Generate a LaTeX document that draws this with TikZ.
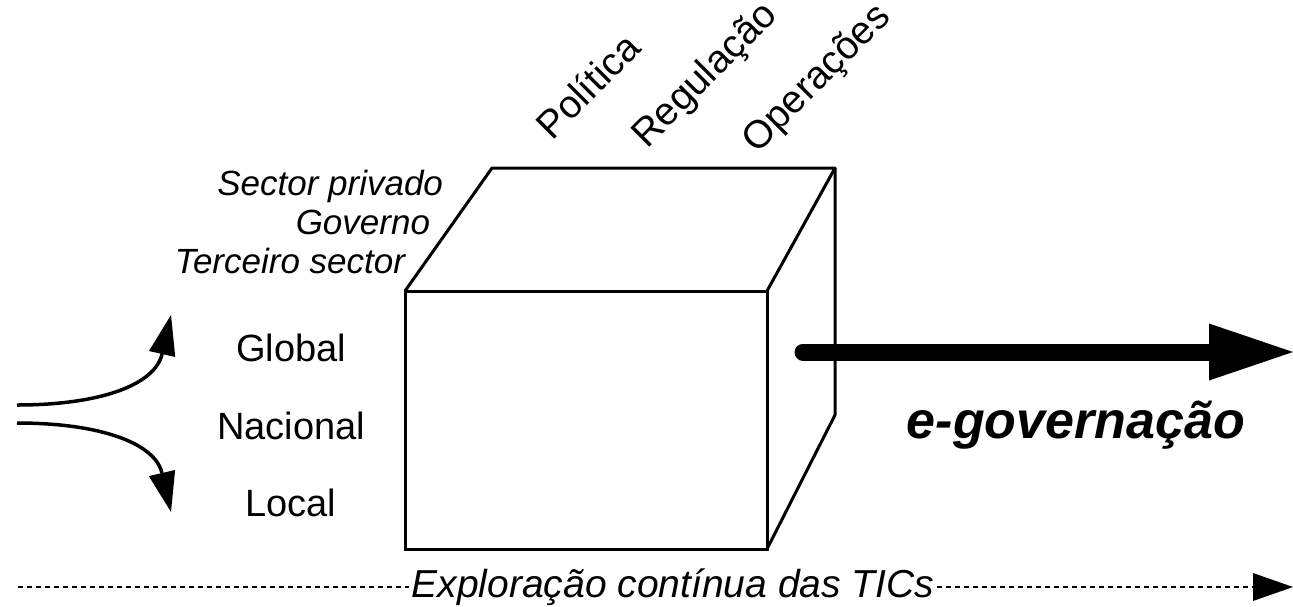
\documentclass[tikz,border=0pt]{standalone}
\usepackage{fontspec}
\setmainfont{Liberation Sans}
\usetikzlibrary{arrows.meta}

\begin{document}
\begin{tikzpicture}
  [x=1pt,y=-1pt,every node/.style={inner sep=0pt,outer sep=0pt},
   lvl/.style={font=\fontsize{38}{40}\selectfont,anchor=base},
   sec/.style={font=\fontsize{35}{37}\selectfont\itshape,anchor=base east},
   area/.style={font=\fontsize{39}{41}\selectfont,anchor=base west,rotate=45},
   edge/.style={line width=3pt,line join=round},
   dotline/.style={line width=2.5pt,dash pattern=on 4.5pt off 4.5pt}]
  \useasboundingbox (0,0) rectangle (1293,606);

  % cube
  \node [draw,line width=3pt,minimum width=362pt,minimum height=258pt] (front) at (586,420) {};
  \draw [edge] (front.north west) -- (492,168) -- (835,168) -- (front.north east);
  \draw [edge] (835,168) -- (835,415) -- (front.south east);

  \node [lvl] (v1) at (291,361) {Global};
  \node [lvl] (v2) at (291,439) {Nacional};
  \node [lvl] (v3) at (291,516) {Local};

  \node [sec] (s1) at (443,195) {Sector privado};
  \node [sec] (s2) at (430,234) {Governo};
  \node [sec] (s3) at (405,273) {Terceiro sector};

  \node [area] (a1) at (552,141) {Política};
  \node [area] (a2) at (647,149) {Regulação};
  \node [area] (a3) at (757,154) {Operações};

  % arrows on the left
  \coordinate (f0) at (17,405);
  \coordinate (f1) at (171,315);
  \coordinate (g0) at (17,423);
  \coordinate (g1) at (171,512);
  \draw [line width=3.5pt,-{Triangle[length=40pt,width=27pt,line width=0pt]}]
    (f0) .. controls (100,405) and (155,385) .. (f1);
  \draw [line width=3.5pt,-{Triangle[length=40pt,width=27pt,line width=0pt]}]
    (g0) .. controls (100,423) and (155,443) .. (g1);

  % main arrow
  \coordinate (e0) at (803,352);
  \coordinate (e1) at (1293,352);
  \draw [line width=17pt,line cap=round,-{Triangle[length=84pt,width=57pt,line width=0pt]}] (e0) -- (e1);
  \node [font=\fontsize{52}{54}\selectfont\bfseries\itshape,anchor=base] (eg) at (1076,438) {e-governação};

  % bottom line
  \node [font=\fontsize{39}{41}\selectfont\itshape,anchor=base,inner xsep=3pt] (tic) at (673,597) {Exploração contínua das TICs};
  \coordinate (t0) at (18,587);
  \coordinate (t1) at (1293,587);
  \draw [dotline] (t0) -- (tic.west |- t0);
  \draw [dotline,-{Triangle[length=40pt,width=28pt,line width=0pt]}] (tic.east |- t1) -- (t1);

\end{tikzpicture}
\end{document}
